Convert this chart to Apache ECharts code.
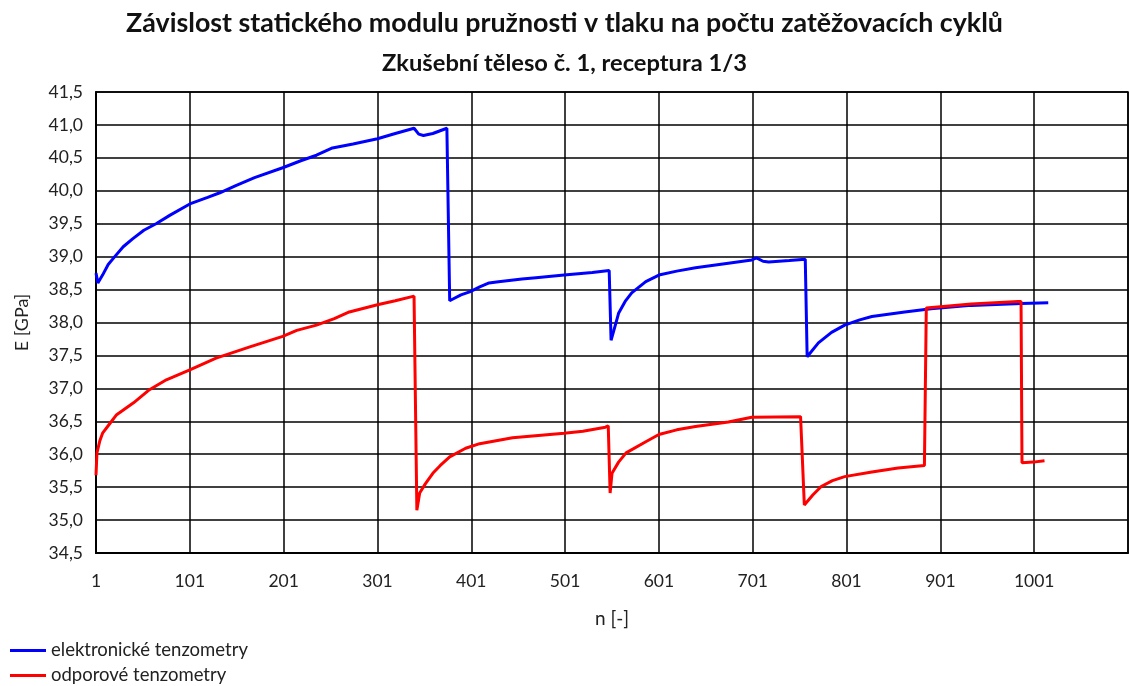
<!DOCTYPE html>
<html>
<head>
    <meta charset="utf-8">
    <title>Závislost statického modulu pružnosti</title>
    <script src="https://cdn.jsdelivr.net/npm/echarts@6/dist/echarts.min.js"></script>
    <style>
        html, body { margin: 0; padding: 0; background: #fff; }
        #chart1 { width: 1129px; height: 686px; }
    </style>
</head>
<body>
<div id="chart1"></div>
<script>
    // n (cykly) a E [GPa]
    var elektronN = [1, 3, 8, 14, 21, 30, 40, 52, 65, 80, 101, 120, 133, 150, 170, 200, 220, 236, 253, 275, 301, 320, 340, 342, 345, 350, 360, 375, 377,
        378, 382, 390, 400, 410, 420, 430, 455, 470, 500, 530, 548, 549,
        550, 553, 558, 565, 572, 587, 601, 620, 640, 675, 700, 705, 712, 718, 740, 757, 758,
        759, 771, 785, 799, 815, 828, 863, 891, 934, 987, 1016];
    var elektronE = [38.75, 38.60, 38.72, 38.88, 39.00, 39.15, 39.27, 39.40, 39.50, 39.63, 39.80, 39.90, 39.97, 40.08, 40.20, 40.35, 40.46, 40.54, 40.65, 40.71, 40.79, 40.87, 40.95, 40.97, 40.86, 40.84, 40.87, 40.95, 40.96,
        38.33, 38.36, 38.42, 38.47, 38.54, 38.60, 38.62, 38.66, 38.68, 38.72, 38.76, 38.79, 38.80,
        37.73, 37.88, 38.14, 38.32, 38.45, 38.62, 38.72, 38.78, 38.83, 38.90, 38.95, 38.98, 38.93, 38.92, 38.94, 38.96, 38.96,
        37.48, 37.69, 37.85, 37.96, 38.04, 38.09, 38.16, 38.21, 38.26, 38.29, 38.30];

    var odporN = [1, 2, 5, 8, 16, 23, 41, 58, 76, 101, 129, 165, 200, 215, 236, 255, 271, 301, 320, 340, 341,
        343, 346, 352, 360, 368, 378, 395, 410, 445, 500, 520, 544, 547,
        549, 551, 558, 566, 587, 601, 620, 640, 675, 700, 752, 754,
        756, 765, 774, 786, 799, 828, 856, 884, 885,
        886, 934, 984, 987,
        988, 1000, 1012];
    var odporE = [35.68, 36.02, 36.20, 36.32, 36.47, 36.60, 36.78, 36.98, 37.13, 37.28, 37.46, 37.63, 37.79, 37.88, 37.96, 38.06, 38.16, 38.27, 38.33, 38.40, 38.41,
        35.15, 35.41, 35.55, 35.71, 35.83, 35.96, 36.09, 36.16, 36.25, 36.32, 36.35, 36.41, 36.43,
        35.41, 35.71, 35.88, 36.02, 36.19, 36.30, 36.37, 36.42, 36.49, 36.56, 36.57, 36.57,
        35.23, 35.38, 35.51, 35.60, 35.66, 35.73, 35.79, 35.83, 35.84,
        38.22, 38.28, 38.32, 38.32,
        35.87, 35.88, 35.90];

    var nazvySerii = ['elektronické tenzometry', 'odporové tenzometry'];

    function spoj(xs, ys) {
        var out = [];
        for (var i = 0; i < xs.length; i++) {
            out.push([xs[i], ys[i]]);
        }
        return out;
    }

    var pismo = 'Lato, "Open Sans", sans-serif';
    var legendaText = { fontFamily: pismo, fontSize: 18.5, color: '#222' };

    var myChart1 = echarts.init(document.getElementById('chart1'));
    myChart1.setOption({
        animation: false,
        backgroundColor: '#fff',
        textStyle: { fontFamily: pismo },
        title: [{
            text: 'Závislost statického modulu pružnosti v tlaku na počtu zatěžovacích cyklů',
            left: 'center',
            top: 5,
            textStyle: { fontFamily: pismo, fontSize: 26.8, fontWeight: 'bold', color: '#111' }
        }, {
            text: 'Zkušební těleso č. 1, receptura 1/3',
            left: 'center',
            top: 46,
            textStyle: { fontFamily: pismo, fontSize: 23.7, fontWeight: 'bold', color: '#111' }
        }],
        // dvě legendy pod sebou
        legend: [{
            left: 10,
            top: 641,
            padding: 0,
            itemWidth: 36,
            itemHeight: 3,
            icon: 'rect',
            data: [nazvySerii[0]],
            textStyle: legendaText
        }, {
            left: 10,
            top: 666,
            padding: 0,
            itemWidth: 36,
            itemHeight: 3,
            icon: 'rect',
            data: [nazvySerii[1]],
            textStyle: legendaText
        }],
        grid: {
            left: 96,
            top: 92,
            right: 1,
            bottom: 133,
            show: true,
            borderColor: '#000',
            borderWidth: 1.5,
            containLabel: false,
            outerBoundsMode: 'none'
        },
        xAxis: {
            type: 'value',
            min: 1,
            max: 1101,
            interval: 100,
            name: 'n [-]',
            nameLocation: 'middle',
            nameGap: 56,
            nameTextStyle: { fontFamily: pismo, fontSize: 19, color: '#222' },
            axisLine: { lineStyle: { color: '#000', width: 2 } },
            axisTick: { show: false },
            axisLabel: {
                fontFamily: pismo, fontSize: 17.5, color: '#222', margin: 19,
                showMaxLabel: false,
                formatter: function (v) { return String(v); }
            },
            splitLine: { show: true, lineStyle: { color: '#000', width: 1.5 } }
        },
        yAxis: {
            type: 'value',
            min: 34.5,
            max: 41.5,
            interval: 0.5,
            name: 'E [GPa]',
            nameLocation: 'middle',
            nameGap: 65,
            nameTextStyle: { fontFamily: pismo, fontSize: 18, color: '#222' },
            axisLine: { show: true, lineStyle: { color: '#000', width: 2 } },
            axisTick: { show: false },
            axisLabel: {
                fontFamily: pismo, fontSize: 17.5, color: '#222', margin: 13,
                formatter: function (v) { return v.toFixed(1).replace('.', ','); }
            },
            splitLine: { show: true, lineStyle: { color: '#000', width: 1.5 } }
        },
        series: [{
            name: nazvySerii[0],
            type: 'line',
            data: spoj(elektronN, elektronE),
            showSymbol: false,
            symbol: 'none',
            color: '#0000ff',
            lineStyle: { color: '#0000ff', width: 3 }
        }, {
            name: nazvySerii[1],
            type: 'line',
            data: spoj(odporN, odporE),
            showSymbol: false,
            symbol: 'none',
            color: '#ff0000',
            lineStyle: { color: '#ff0000', width: 3 }
        }]
    });
</script>
</body>
</html>
